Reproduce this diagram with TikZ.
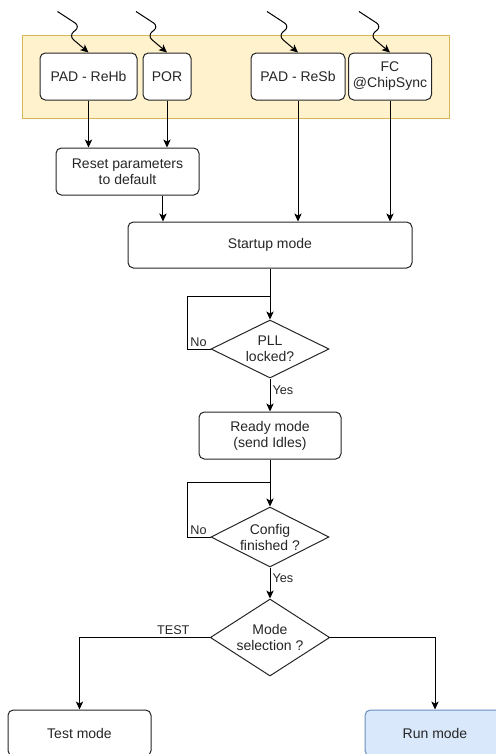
\documentclass[tikz,border=0pt]{standalone}
\usepackage{fontspec}
\setmainfont{Liberation Sans}
\usetikzlibrary{arrows.meta, shapes.geometric}

\definecolor{bandfill}{HTML}{FFF2CC}
\definecolor{bandline}{HTML}{D6B656}
\definecolor{runfill}{HTML}{DAE8FC}
\definecolor{runline}{HTML}{6C8EBF}

\begin{document}
\begin{tikzpicture}[x=0.75pt, y=-0.75pt, ->, >={Stealth[length=6pt, width=5.5pt, inset=1.5pt]},
      line width=0.75pt, font=\fontsize{10.5}{12}\selectfont, text=black!85,
      block/.style={draw=black!85, fill=white, rounded corners=4pt, align=center, inner sep=2pt,
        minimum height=35.25pt},
      decision/.style={draw=black!85, fill=white, diamond, aspect=2, align=center, inner sep=0pt},
      lbl/.style={font=\fontsize{9.5}{10}\selectfont, inner sep=1.5pt}]
    \useasboundingbox (0,0) rectangle (496,754);

    % reset sources
    \fill[draw=bandline, fill=bandfill, -] (22,35) rectangle (449,118);
    \node[block, minimum width=72.75pt] (reheb) at (88.5,76.5) {PAD - ReHb};
    \node[block, minimum width=36pt] (por) at (167,76.5) {POR};
    \node[block, minimum width=70.5pt] (resb) at (298,76.5) {PAD - ReSb};
    \node[block, minimum width=62.25pt] (fc) at (390,76.5) {FC\\@ChipSync};
    \foreach \src in {reheb, por, resb, fc}
      \draw[rounded corners=5pt] ([shift={(-31,-41)}]\src.north) -- ++(23,15) -- ++(-12,9) -- (\src.north);

    % flow
    \node[block, minimum width=107.25pt] (reset) at (127.5,171.5) {Reset parameters\\to default};
    \node[block, minimum width=213pt, minimum height=34.5pt] (startup) at (270,245) {Startup mode};
    \node[decision, minimum width=88.5pt, minimum height=43.5pt] (pll) at (270,349) {PLL\\locked?};
    \node[block, minimum width=106.5pt] (ready) at (270,435.5) {Ready mode\\(send Idles)};
    \node[decision, minimum width=88.5pt, minimum height=45pt] (cfg) at (270,537) {Config\\finished ?};
    \node[decision, minimum width=88.5pt, minimum height=57.75pt] (mode) at (270,637.5) {Mode\\selection ?};
    \node[block, minimum width=107.25pt, minimum height=34.5pt] (test) at (79.5,733) {Test mode};
    \node[block, draw=runline, fill=runfill, minimum width=105pt, minimum height=34.5pt] (run) at (435,733) {Run mode};
    \coordinate (pllback) at (187,296);
    \coordinate (cfgback) at (187,482);

    \draw (reheb) -- (reheb |- reset.north);
    \draw (por) -- (por |- reset.north);
    \draw ([xshift=26.6pt]reset.south) -- ([xshift=26.6pt]reset.south |- startup.north);
    \draw (resb) -- (resb |- startup.north);
    \draw (fc) -- (fc |- startup.north);

    \draw (startup) -- (pll);
    \draw[-] (pll.west) -| (pllback) -- (pllback -| pll.north);
    \node[lbl, anchor=south east] at ([xshift=-1pt]pll.west) {No};
    \draw (pll) -- node[lbl, right, pos=0.35] {Yes} (ready);

    \draw (ready) -- (cfg);
    \draw[-] (cfg.west) -| (cfgback) -- (cfgback -| cfg.north);
    \node[lbl, anchor=south east] at ([xshift=-1pt]cfg.west) {No};
    \draw (cfg) -- node[lbl, right, pos=0.35] {Yes} (mode);

    \draw (mode.west) -| node[lbl, above, pos=0.14] {TEST} (test.north);
    \draw (mode.east) -| (run.north);
  \end{tikzpicture}
\end{document}
